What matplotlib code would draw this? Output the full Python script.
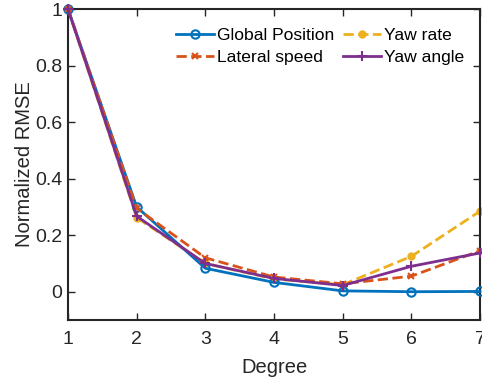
import numpy as np
import matplotlib.pyplot as plt

plt.rcParams['font.family'] = ['Liberation Sans', 'DejaVu Sans']

degree = [1, 2, 3, 4, 5, 6, 7]
global_pos = [1.0, 0.30, 0.083, 0.033, 0.003, 0.0, 0.001]
lateral_speed = [1.0, 0.295, 0.12, 0.052, 0.028, 0.055, 0.145]
yaw_rate = [1.0, 0.262, 0.10, 0.045, 0.025, 0.125, 0.285]
yaw_angle = [1.0, 0.267, 0.10, 0.047, 0.022, 0.09, 0.137]

c_blue = (0, 0.447, 0.741)
c_red = (0.85, 0.325, 0.098)
c_yel = (0.929, 0.694, 0.125)
c_pur = (0.494, 0.184, 0.556)

fig = plt.figure(figsize=(4.82, 3.83), dpi=100)
ax = fig.add_axes([0.141, 0.1645, 0.855, 0.812])

ax.plot(degree, global_pos, '-o', color=c_blue, lw=2, ms=6, mfc='none', mew=1.5,
        label='Global Position', clip_on=False, zorder=3)
ax.plot(degree, lateral_speed, '--x', color=c_red, lw=2, ms=5, mew=1.5,
        label='Lateral speed', clip_on=False, zorder=3)
ax.plot(degree, yaw_rate, '--o', color=c_yel, lw=2, ms=5,
        label='Yaw rate', clip_on=False, zorder=2)
ax.plot(degree, yaw_angle, '-+', color=c_pur, lw=2, ms=7, mew=1.5,
        label='Yaw angle', clip_on=False, zorder=4)

ax.set_xlim(1, 7)
ax.set_ylim(-0.1, 1)
ax.set_xticks(degree)
ax.set_yticks([0, 0.2, 0.4, 0.6, 0.8, 1])
ax.set_yticklabels(['0', '0.2', '0.4', '0.6', '0.8', '1'])
ax.tick_params(direction='in', top=True, right=True, labelsize=14,
               colors='#262626', length=5, width=1)
ax.tick_params(axis='x', pad=8)
ax.tick_params(axis='y', pad=4)
for s in ax.spines.values():
    s.set_linewidth(1.5)
    s.set_color('#262626')
ax.set_xlabel('Degree', fontsize=14.5, color='#262626', labelpad=7)
ax.set_ylabel('Normalized RMSE', fontsize=14.5, color='#262626', labelpad=1)

ax.legend(loc='upper right', ncol=2, frameon=False, fontsize=12.6,
          handlelength=2.2, handletextpad=0.15, columnspacing=0.5,
          labelspacing=0.4, borderaxespad=0.4, bbox_to_anchor=(0.995, 0.985))

fig.savefig('out.png', dpi=100)
